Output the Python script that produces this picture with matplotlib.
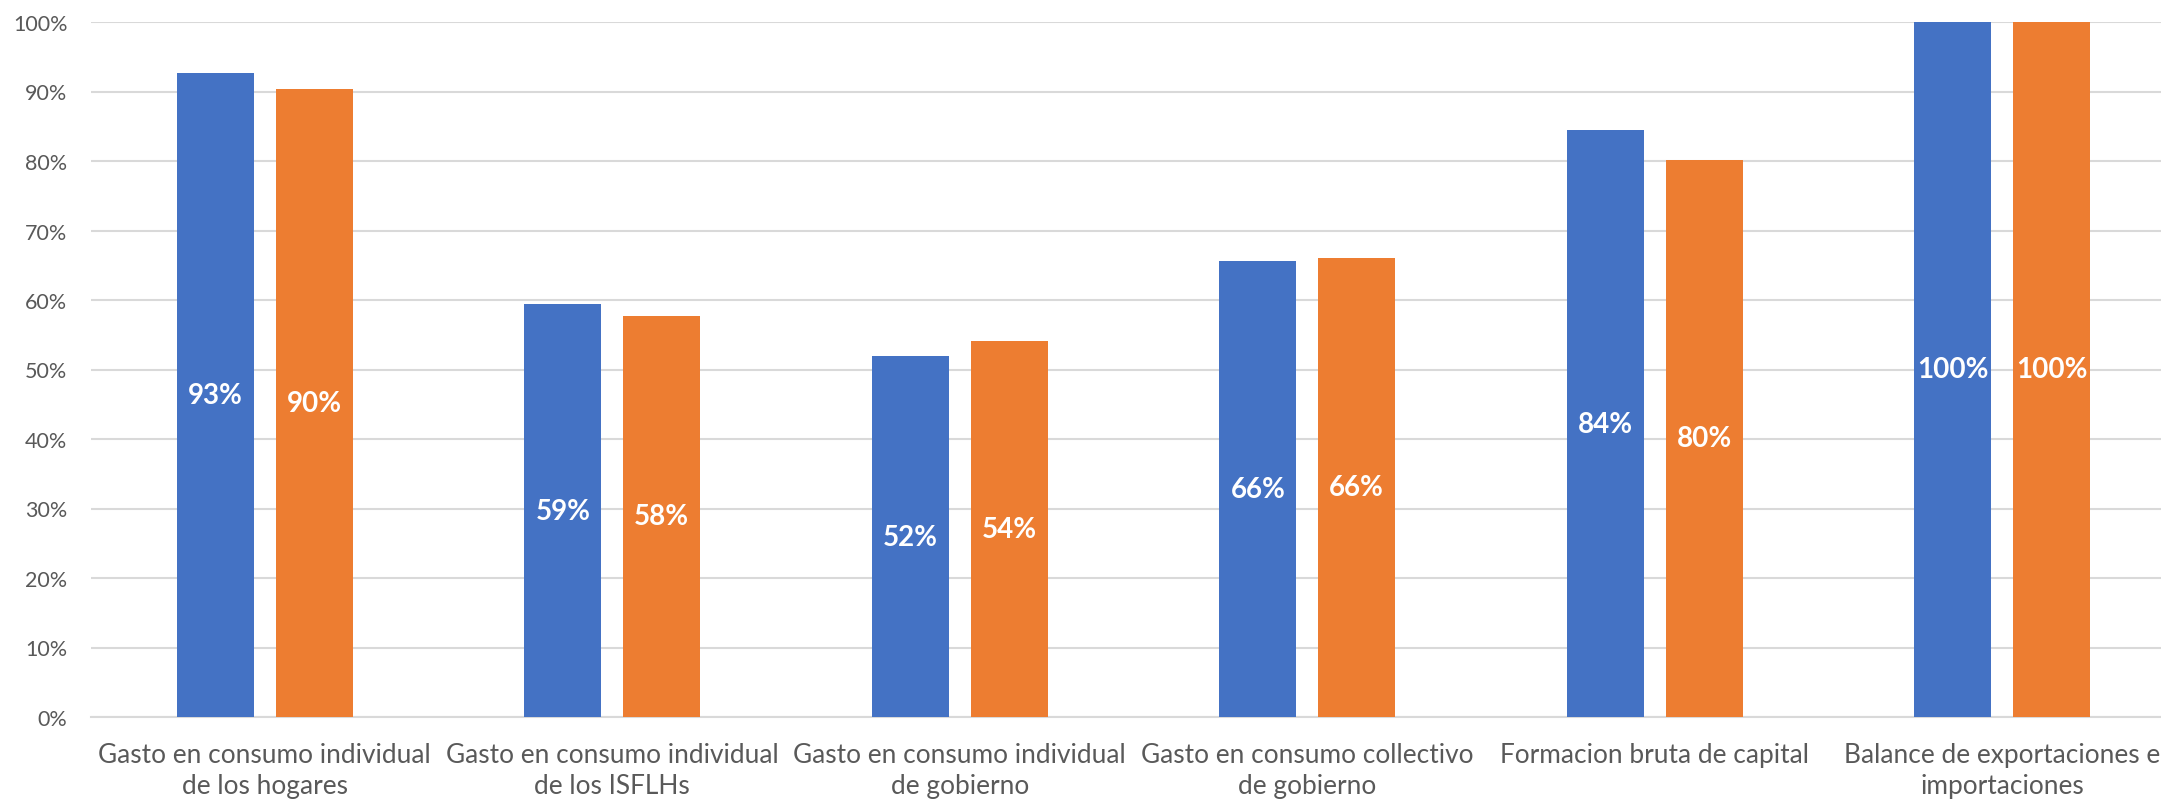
import numpy as np
import matplotlib.pyplot as plt
from matplotlib.ticker import PercentFormatter

plt.rcParams['font.family'] = ['Lato', 'DejaVu Sans']

# datos
categorias = [
    'Gasto en consumo individual\nde los hogares',
    'Gasto en consumo individual\nde los ISFLHs',
    'Gasto en consumo individual\nde gobierno',
    'Gasto en consumo collectivo\nde gobierno',
    'Formacion bruta de capital',
    'Balance de exportaciones e\nimportaciones',
]
serie_azul = [0.927, 0.594, 0.519, 0.656, 0.844, 1.0]
serie_naranja = [0.903, 0.577, 0.541, 0.661, 0.802, 1.0]

AZUL = '#4472C4'
NARANJA = '#ED7D31'
GRIS_TXT = '#595959'
GRIS_GRID = '#D9D9D9'

fig = plt.figure(figsize=(21.61, 8.04), dpi=100)
ax = fig.add_axes([91 / 2161, 86 / 804, (2176 - 91) / 2161, 695 / 804])

x = np.arange(len(categorias))
ancho = 0.222
desp = 0.142

b1 = ax.bar(x - desp, serie_azul, ancho, color=AZUL, zorder=3)
b2 = ax.bar(x + desp, serie_naranja, ancho, color=NARANJA, zorder=3)

for barras in (b1, b2):
    for r in barras:
        h = r.get_height()
        ax.text(r.get_x() + r.get_width() / 2, h / 2, '%d%%' % round(h * 100),
                ha='center', va='center', color='white', fontsize=20,
                fontweight='bold', zorder=4)

ax.set_xlim(-0.5, 5.5)
ax.set_ylim(0, 1.0)
ax.yaxis.set_major_formatter(PercentFormatter(1.0, decimals=0))
ax.set_yticks(np.arange(0, 1.01, 0.1))
ax.set_xticks(x)
ax.set_xticklabels(categorias, fontsize=18.9, color=GRIS_TXT, linespacing=1.3)
ax.tick_params(axis='y', length=0, pad=17, labelsize=15.5, labelcolor=GRIS_TXT)
ax.tick_params(axis='x', length=0, pad=18)

ax.grid(axis='y', color=GRIS_GRID, linewidth=1.5, zorder=0)
for s in ['top', 'right', 'left']:
    ax.spines[s].set_visible(False)
ax.spines['bottom'].set_color(GRIS_GRID)
ax.spines['bottom'].set_linewidth(1.5)

fig.savefig('out.png', dpi=100, facecolor='white')
